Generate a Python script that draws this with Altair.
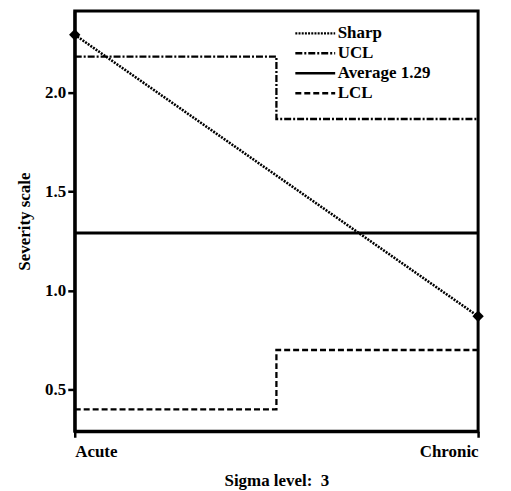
import altair as alt
import pandas as pd

series_names = ["Sharp", "UCL", "Average 1.29", "LCL"]
sharp_x = [0, 1]
sharp_y = [2.29, 0.87]
step_x = [0, 0.5, 1]
ucl_y = [2.18, 1.865, 1.865]
avg_y = [1.29, 1.29, 1.29]
lcl_y = [0.40, 0.70, 0.70]
x_tick_values = [0, 1]
x_tick_labels = ["Acute", "Chronic"]
y_ticks = [0.5, 1.0, 1.5, 2.0]

sharp_df = pd.DataFrame({"x": sharp_x, "y": sharp_y, "series": "Sharp"})
step_rows = []
for name, ys in [("UCL", ucl_y), ("LCL", lcl_y)]:
    for xv, yv in zip(step_x, ys):
        step_rows.append({"x": xv, "y": yv, "series": name})
step_df = pd.DataFrame(step_rows)
avg_df = pd.DataFrame({"x": step_x, "y": avg_y, "series": "Average 1.29"})

label_expr = " : ".join(
    [f"datum.value == {v} ? '{l}'" for v, l in zip(x_tick_values[:-1], x_tick_labels[:-1])]
    + [f"'{x_tick_labels[-1]}'"]
)

FONT = "Liberation Serif"
FS = 17

x_enc = alt.X(
    "x:Q",
    scale=alt.Scale(domain=[0, 1], nice=False),
    axis=alt.Axis(
        values=x_tick_values,
        labelExpr=label_expr,
        title="Sigma level:\u00a0 3",
        grid=False,
        tickSize=6,
        labelPadding=6,
        titlePadding=13,
    ),
)
y_enc = alt.Y(
    "y:Q",
    scale=alt.Scale(domain=[0.29, 2.41], nice=False, zero=False),
    axis=alt.Axis(
        values=y_ticks,
        format=".1f",
        title="Severity scale",
        grid=False,
        tickSize=7,
        labelPadding=2,
        titlePadding=11,
    ),
)

dash_scale = alt.Scale(
    domain=series_names,
    range=[[2, 1.2], [7, 2, 2, 2], [1, 0], [6, 3]],
)

legend = alt.Legend(
    title=None,
    orient="none",
    legendX=230,
    legendY=11,
    symbolType="M-2,0H2",
    symbolSize=400,
    symbolStrokeColor="black",
    symbolStrokeWidth=2.5,
    labelOffset=11,
    labelFont=FONT,
    labelFontSize=FS,
    labelFontWeight="bold",
    labelColor="black",
    rowPadding=0,
)

stroke_dash = alt.StrokeDash("series:N", scale=dash_scale, legend=legend, sort=series_names)

sharp_line = alt.Chart(sharp_df).mark_line(color="black", strokeWidth=2.6).encode(
    x=x_enc, y=y_enc, strokeDash=stroke_dash
)
step_lines = alt.Chart(step_df).mark_line(
    color="black", strokeWidth=2.3, interpolate="step-after"
).encode(x=x_enc, y=y_enc, strokeDash=stroke_dash, detail="series:N")
avg_line = alt.Chart(avg_df).mark_line(
    color="black", strokeWidth=3, interpolate="step-after"
).encode(x=x_enc, y=y_enc, strokeDash=stroke_dash)
sharp_points = alt.Chart(sharp_df).mark_point(
    shape="diamond", filled=True, color="black", size=130, opacity=1
).encode(x="x:Q", y="y:Q")

chart = (
    alt.layer(step_lines, avg_line, sharp_line, sharp_points)
    .properties(
        width=405,
        height=422,
        autosize=alt.AutoSizeParams(type="none"),
        padding={"left": 67, "top": 2, "right": 25, "bottom": 60},
        background="white",
    )
    .configure_view(stroke="black", strokeWidth=3)
    .configure_axis(
        domainColor="black",
        domainWidth=3,
        tickColor="black",
        tickWidth=2.5,
        labelFont=FONT,
        labelFontSize=FS,
        labelFontWeight="bold",
        labelColor="black",
        titleFont=FONT,
        titleFontSize=FS,
        titleColor="black",
        titleFontWeight="bold",
    )
)

chart.save("out.html", embed_options={"renderer": "svg", "actions": False})
